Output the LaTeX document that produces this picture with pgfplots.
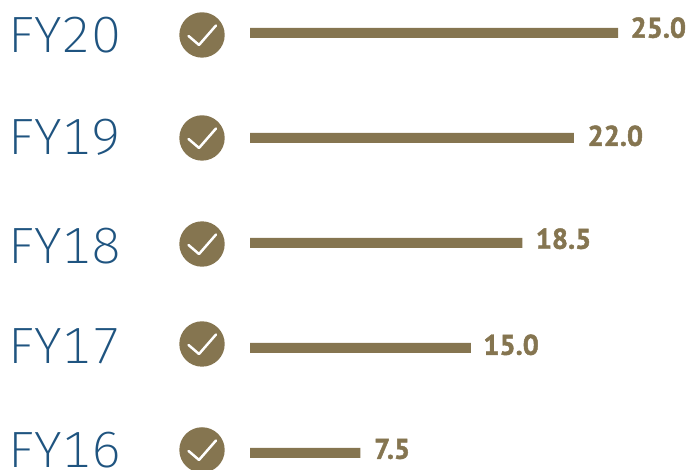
\documentclass[border=0pt]{standalone}
\usepackage{pgfplots}
\pgfplotsset{compat=1.18}
\usepackage{fontspec}
\setmainfont{PT Sans}
\newfontfamily\valfont[FakeBold=1.6]{PT Sans Bold}
\newfontfamily\fyfont[FakeStretch=1.05,Numbers=Monospaced]{Fira Sans ExtraLight}
\definecolor{gold}{HTML}{857550}
\definecolor{fyblue}{HTML}{1F5480}
\pgfdeclareplotmark{checkcircle}{%
  \pgfsetfillcolor{gold}\pgfpathcircle{\pgfpoint{0pt}{0pt}}{22.7pt}\pgfusepathqfill
  \pgfsetstrokecolor{white}\pgfsetlinewidth{2.5pt}\pgfsetroundcap\pgfsetroundjoin
  \pgfpathmoveto{\pgfpoint{-13.5pt}{-1pt}}%
  \pgfpathlineto{\pgfpoint{-3pt}{-10pt}}%
  \pgfpathlineto{\pgfpoint{14pt}{9.5pt}}%
  \pgfusepathqstroke}
\begin{document}
\begin{tikzpicture}[x=1pt,y=1pt]
\path[use as bounding box] (0,0) rectangle (700,470);
\begin{axis}[at={(0pt,0pt)},anchor=south west,scale only axis,width=700pt,height=470pt,
  hide axis,clip=false,xmin=-16.984,xmax=30.571,ymin=-0.162,ymax=4.314]
% bars
\addplot[xbar,draw=none,fill=gold,bar width=10pt,bar shift=0pt] coordinates {(25,4) (22,3) (18.5,2) (15,1) (7.5,0)};
% check circles
\addplot[only marks,mark=checkcircle] coordinates {(-3.26,3.981) (-3.26,3.0) (-3.26,1.99) (-3.26,1.038) (-3.26,0.029)};
% value labels
\addplot[only marks,mark=none,point meta=explicit symbolic,
  nodes near coords,nodes near coords align={anchor=west},
  every node near coord/.append style={inner sep=0pt,text=gold,font=\fontsize{28.5}{28.5}\selectfont\valfont}]
  table[meta=l,row sep=\\] {x y l\\
  25.84 4.05 25.0\\
  22.92 3.02 22.0\\
  19.40 2.04 18.5\\
  15.84 1.03 15.0\\
  8.42 0.038 7.5\\};
% FY labels
\addplot[only marks,mark=none,point meta=explicit symbolic,
  nodes near coords,nodes near coords align={anchor=west},
  every node near coord/.append style={inner sep=0pt,text=fyblue,font=\fontsize{51}{51}\selectfont\fyfont}]
  table[meta=l,row sep=\\] {x y l\\
  -16.4 3.981 FY20\\
  -16.4 3.01 FY19\\
  -16.4 1.97 FY18\\
  -16.4 1.02 FY17\\
  -16.4 0.03 FY16\\};
\end{axis}
\end{tikzpicture}
\end{document}
